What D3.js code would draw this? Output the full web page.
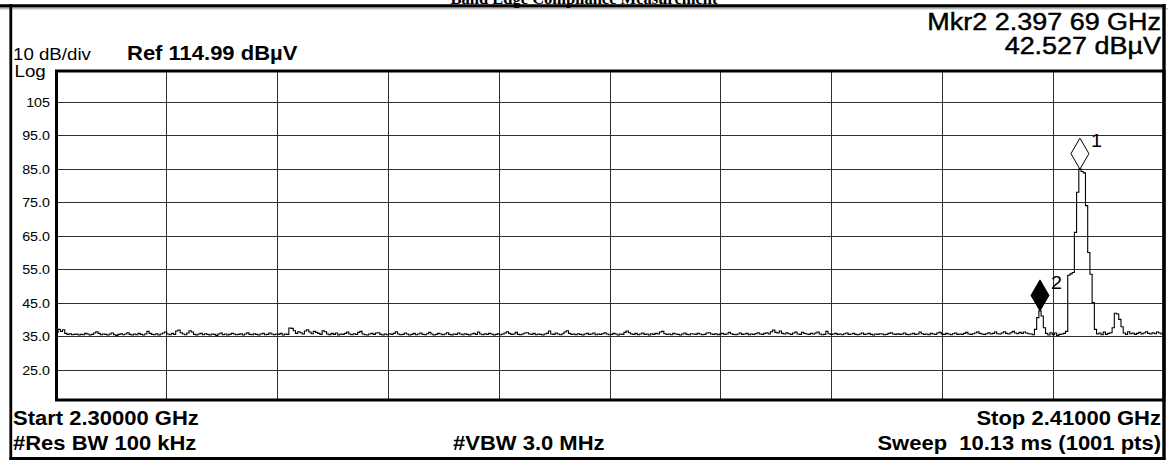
<!DOCTYPE html>
<html>
<head>
<meta charset="utf-8">
<script src="https://cdn.jsdelivr.net/npm/d3@7"></script>
<style>
  html, body { margin: 0; padding: 0; background: #fff; overflow: hidden; }
  svg { display: block; }
  text { font-family: "Liberation Sans", Arial, sans-serif; fill: #000; white-space: pre; }
</style>
</head>
<body>
<svg id="chart" width="1168" height="461"></svg>
<script>
// ---- Sweep settings ----
const title = "Band Edge Compliance Measurement";
const startMHz = 2300;
const stopMHz = 2410;
const stepMHz = 0.22;          // spacing of the trace samples below
const refLevel = 114.99;       // dBµV at top graticule
const dbPerDiv = 10;
const divisions = 10;

// ---- Graticule labels ----
const yTickLabels = ["105", "95.0", "85.0", "75.0", "65.0", "55.0", "45.0", "35.0", "25.0"];

// ---- Trace (dBµV), one value per 0.22 MHz from 2300 MHz ----
const traceLevels = [
  35.6,36.1,37.0,36.4,36.9,35.8,35.5,35.7,35.4,35.5,35.6,35.3,35.5,35.4,35.8,35.6,35.3,35.5,35.9,36.3,
  35.8,35.4,35.6,35.5,35.3,35.6,35.9,35.4,35.2,35.5,35.7,35.4,35.6,36.0,35.5,35.3,35.6,35.4,35.8,35.5,
  35.3,35.6,36.4,35.8,35.5,35.4,35.7,35.3,35.6,35.9,36.2,35.6,35.4,35.8,35.5,36.5,36.8,36.0,35.6,35.4,
  35.9,36.6,36.2,35.5,35.3,35.6,35.8,35.4,35.7,35.5,35.3,35.6,35.5,35.2,35.6,35.9,35.4,35.6,35.3,35.5,
  35.8,35.6,35.4,35.5,35.7,35.3,35.6,36.0,35.5,35.4,35.7,35.5,35.3,35.6,35.8,35.4,35.5,35.9,35.6,35.4,
  35.6,35.5,35.8,35.3,35.6,35.5,37.4,37.3,36.6,35.8,36.3,36.0,35.6,36.5,36.9,36.2,35.7,36.4,36.1,35.8,
  35.5,36.6,36.3,35.6,35.4,35.8,35.5,35.9,35.3,35.6,35.5,35.8,36.2,35.6,35.4,35.7,35.5,36.1,36.4,35.6,
  35.4,35.3,35.6,35.8,35.5,35.9,36.0,35.5,35.3,35.6,35.4,35.7,35.5,35.8,36.3,35.6,35.4,35.5,35.9,35.6,
  35.3,35.5,35.8,35.4,35.6,35.9,35.5,35.4,35.7,36.1,35.6,35.3,35.5,35.8,35.6,35.4,35.6,36.0,35.5,35.3,
  35.6,35.5,35.9,35.6,35.4,35.7,35.5,35.3,35.6,35.8,35.5,36.2,35.6,35.4,35.7,35.5,35.8,35.6,35.3,35.5,
  35.7,35.4,35.6,35.9,36.3,35.8,35.5,35.6,36.1,35.5,35.4,35.6,35.9,36.0,35.6,35.5,35.8,35.4,35.6,35.5,
  35.3,35.6,35.8,36.5,35.6,35.5,35.9,35.6,35.4,35.7,36.2,36.6,35.8,35.5,35.6,35.4,35.7,35.5,35.3,35.6,
  35.8,35.5,35.6,35.9,35.4,35.6,35.5,35.7,36.0,35.6,35.4,35.5,35.8,35.6,35.3,35.6,35.5,36.1,36.5,36.0,
  35.6,35.5,35.8,35.4,35.6,35.9,35.5,35.6,35.3,35.7,35.5,35.8,35.6,36.2,36.4,35.7,35.5,35.6,35.4,35.8,
  35.6,35.5,35.3,35.6,35.9,35.5,35.4,35.7,35.6,35.5,35.8,35.6,35.4,35.5,35.9,36.0,35.6,35.5,35.7,35.4,
  35.6,35.8,35.5,35.6,36.1,35.7,35.5,35.4,35.6,35.9,35.5,35.6,35.8,35.4,35.6,35.5,35.7,36.0,35.6,35.5,
  35.8,36.0,35.6,36.3,36.8,36.1,35.9,36.5,35.8,35.6,36.0,35.7,35.5,35.9,36.2,35.6,35.5,36.1,35.8,35.6,
  35.5,35.8,35.6,35.9,36.2,35.6,35.4,35.5,36.4,35.7,35.5,35.6,35.8,35.5,35.6,35.4,35.7,35.9,35.5,35.6,
  35.8,35.5,35.4,35.6,35.9,35.5,35.6,35.8,35.5,35.3,35.6,35.5,35.7,35.6,35.4,35.5,35.8,36.0,35.6,35.5,
  35.7,35.5,35.6,35.9,35.5,35.4,35.6,35.8,35.5,35.6,36.2,35.7,35.5,35.6,35.4,35.8,35.6,35.5,35.9,36.1,
  35.6,35.5,35.8,35.6,35.4,35.7,35.9,35.5,35.6,35.5,35.8,36.1,35.6,35.5,35.7,35.9,36.3,35.8,35.6,35.5,
  35.7,36.0,35.6,35.8,36.2,35.7,35.6,35.9,36.3,35.8,35.6,36.0,36.4,35.9,35.7,36.1,35.8,36.2,35.9,35.7,
  35.6,35.4,37.0,40.5,42.527,41.0,37.5,35.8,35.3,36.0,35.4,35.9,35.2,35.5,35.6,35.8,36.4,53.2,53.6,54.0,
  66.0,78.0,84.9,84.2,83.8,74.0,60.0,53.5,45.0,37.0,35.6,35.9,35.4,36.2,35.5,35.8,36.0,37.5,41.8,41.6,
  40.0,37.8,35.9,35.5,36.3,35.7,35.9,35.5,35.8,36.1,35.6,35.9,36.3,35.8,35.6,36.0,35.7,36.2,35.9,35.6,
  36.0
];

// ---- Markers (index into the trace) ----
const markerIds = ["1", "2"];
const markerIndex = [462, 444];
const markerFilled = [false, true];

// ---- Annotation text ----
const markerReadout = ["Mkr2 2.397 69 GHz", "42.527 dBµV"];
const scaleText = "10 dB/div";
const refText = "Ref 114.99 dBµV";
const bottomLeft = ["Start 2.30000 GHz", "#Res BW 100 kHz"];
const bottomCenter = "#VBW 3.0 MHz";
const bottomRight = ["Stop 2.41000 GHz", "Sweep  10.13 ms (1001 pts)"];

// ---------------------------------------------------------------
const svg = d3.select("#chart");
const stretch = 1.1;   // analyser display font is a little wider than Arial

const plot = { left: 56.5, right: 1164, top: 71, bottom: 400 };

const x = d3.scaleLinear().domain([startMHz, stopMHz]).range([54.75, 1164.25]);
const y = d3.scaleLinear()
  .domain([refLevel - dbPerDiv * divisions, refLevel])
  .range([403, 68.5]);

svg.append("defs").append("clipPath").attr("id", "plot-clip")
  .append("rect")
  .attr("x", plot.left).attr("y", plot.top)
  .attr("width", plot.right - plot.left).attr("height", plot.bottom - plot.top);

function label(sel, px, py, str, opts) {
  const o = Object.assign({ size: 13, weight: "normal", anchor: "start", sx: stretch, heavy: 0 }, opts || {});
  const t = sel.append("text")
    .attr("transform", `translate(${px},${py}) scale(${o.sx},1)`)
    .attr("text-anchor", o.anchor)
    .attr("xml:space", "preserve")
    .style("font-size", o.size + "px")
    .style("font-weight", o.weight)
    .text(str);
  if (o.heavy) t.attr("stroke", "#000").attr("stroke-width", o.heavy);
  return t;
}

// Title (sits above the top rule)
svg.append("text")
  .attr("x", 584).attr("y", 4)
  .attr("text-anchor", "middle")
  .style("font-family", '"Liberation Serif", "Times New Roman", serif')
  .style("font-weight", "bold")
  .style("font-size", "16.5px")
  .text(title);

// Outer frame
svg.append("line").attr("x1", 0).attr("x2", 1168).attr("y1", 8.8).attr("y2", 8.8)
  .attr("stroke", "#9a9a9a").attr("stroke-width", 1);
svg.append("line").attr("x1", 0).attr("x2", 1165.5).attr("y1", 5.9).attr("y2", 5.9)
  .attr("stroke", "#000").attr("stroke-width", 3.2);
svg.append("line").attr("x1", 10.8).attr("x2", 10.8).attr("y1", 4).attr("y2", 459.8)
  .attr("stroke", "#000").attr("stroke-width", 2.8);
svg.append("line").attr("x1", 9.4).attr("x2", 1165.5).attr("y1", 458.4).attr("y2", 458.4)
  .attr("stroke", "#000").attr("stroke-width", 3);
svg.append("line").attr("x1", 1164).attr("x2", 1164).attr("y1", 4).attr("y2", 459.8)
  .attr("stroke", "#000").attr("stroke-width", 3.4);

// Graticule: horizontal lines with amplitude labels
const yTickValues = yTickLabels.map((_, i) => refLevel - dbPerDiv * (i + 1));
const yAxis = d3.axisLeft(y)
  .tickValues(yTickValues)
  .tickFormat((d, i) => yTickLabels[i])
  .tickSize(-(plot.right - plot.left))
  .tickSizeOuter(0);
const gy = svg.append("g").attr("transform", `translate(${plot.left},0)`).call(yAxis);
gy.select(".domain").remove();
gy.selectAll(".tick line").attr("stroke", "#303030").attr("stroke-width", 1)
  .attr("shape-rendering", "crispEdges");
gy.selectAll(".tick text")
  .attr("x", null).attr("dy", "0.35em")
  .attr("transform", `translate(-6.5,0) scale(${stretch},1)`)
  .style("font-family", '"Liberation Sans", Arial, sans-serif')
  .style("font-size", "13px")
  .attr("fill", "#000");

// Graticule: vertical lines every frequency division
const xTickValues = d3.range(1, divisions).map(i => startMHz + i * (stopMHz - startMHz) / divisions);
const xAxis = d3.axisBottom(x)
  .tickValues(xTickValues)
  .tickFormat("")
  .tickSize(-(plot.bottom - plot.top))
  .tickSizeOuter(0);
const gx = svg.append("g").attr("transform", `translate(0,${plot.bottom})`).call(xAxis);
gx.select(".domain").remove();
gx.selectAll(".tick line").attr("stroke", "#303030").attr("stroke-width", 1)
  .attr("shape-rendering", "crispEdges");

// Trace
const line = d3.line()
  .x((d, i) => x(startMHz + i * stepMHz))
  .y(d => y(d))
  .curve(d3.curveStep);
svg.append("path")
  .datum(traceLevels)
  .attr("clip-path", "url(#plot-clip)")
  .attr("d", line)
  .attr("fill", "none")
  .attr("stroke", "#000")
  .attr("stroke-width", 1.1);

// Plot border
svg.append("rect")
  .attr("x", plot.left).attr("y", plot.top)
  .attr("width", plot.right - plot.left).attr("height", plot.bottom - plot.top)
  .attr("fill", "none").attr("stroke", "#000").attr("stroke-width", 3);

// Markers: diamond whose lower tip sits on the trace point
const mw = 9, mh = 31;
markerIds.forEach((id, k) => {
  const idx = markerIndex[k];
  const px = x(startMHz + idx * stepMHz);
  const py = y(traceLevels[idx]);
  svg.append("path")
    .attr("d", `M${px},${py} L${px - mw},${py - mh / 2} L${px},${py - mh} L${px + mw},${py - mh / 2} Z`)
    .attr("fill", markerFilled[k] ? "#000" : "#fff")
    .attr("stroke", "#000").attr("stroke-width", 1);
  label(svg, px + 11, py - 22, id, { size: 18 });
});

// Header annotations
label(svg, 13, 60, scaleText, { size: 17 });
label(svg, 14.5, 77, "Log", { size: 17 });
label(svg, 127, 60, refText, { size: 20, weight: "bold" });
label(svg, 1161, 30, markerReadout[0], { size: 24.5, anchor: "end", heavy: 0.45 });
label(svg, 1161, 54, markerReadout[1], { size: 24.5, anchor: "end", heavy: 0.45 });

// Footer annotations
label(svg, 13, 425, bottomLeft[0], { size: 20, weight: "bold" });
label(svg, 13, 450, bottomLeft[1], { size: 20, weight: "bold" });
label(svg, 453, 450, bottomCenter, { size: 20, weight: "bold" });
label(svg, 1161, 425, bottomRight[0], { size: 20, weight: "bold", anchor: "end" });
label(svg, 1161, 450, bottomRight[1], { size: 20, weight: "bold", anchor: "end" });
</script>
</body>
</html>
